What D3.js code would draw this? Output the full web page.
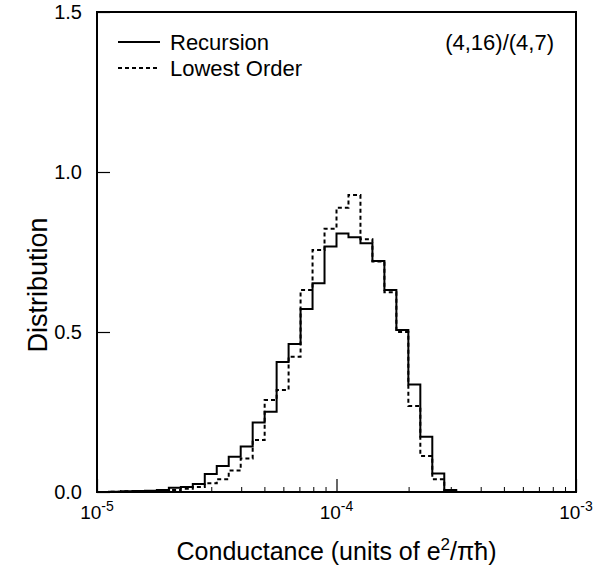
<!DOCTYPE html>
<html>
<head>
<meta charset="utf-8">
<script src="https://cdn.jsdelivr.net/npm/d3@7"></script>
<style>
  body { margin: 0; background: #fff; }
  text { font-family: "Liberation Sans", Arial, sans-serif; fill: #000; }
</style>
</head>
<body>
<script>
// histogram bins: 20 per decade, starting at 10^-5
let logStart = -5;
let binsPerDecade = 20;

// bin heights (bin k covers 10^(-5+k/20) .. 10^(-5+(k+1)/20))
let recursion = [0, 0.001, 0.002, 0.003, 0.004, 0.006, 0.013, 0.016, 0.025, 0.056,
    0.081, 0.11, 0.142, 0.217, 0.251, 0.406, 0.4625, 0.572, 0.652, 0.767,
    0.808, 0.796, 0.777, 0.722, 0.631, 0.506, 0.336, 0.173, 0.058, 0.006, 0];
let lowestOrder = [0, 0.001, 0.002, 0.002, 0.003, 0.004, 0.006, 0.01, 0.016, 0.027,
    0.04, 0.067, 0.105, 0.1625, 0.2875, 0.319, 0.423, 0.631, 0.756, 0.823,
    0.888, 0.928, 0.79, 0.72, 0.624, 0.5, 0.269, 0.1125, 0.04, 0.006, 0];

let yTicks = [0, 0.5, 1.0, 1.5];
let xMajor = [1e-5, 1e-4, 1e-3];
let xMinor = [2e-5, 3e-5, 4e-5, 5e-5, 6e-5, 7e-5, 8e-5, 9e-5,
    2e-4, 3e-4, 4e-4, 5e-4, 6e-4, 7e-4, 8e-4, 9e-4];

let margin = {top: 12, right: 37, bottom: 78, left: 97},
    width = 613 - margin.left - margin.right,
    height = 570 - margin.top - margin.bottom;

let svg = d3.select('body').append('svg')
    .attr('width', 613)
    .attr('height', 570);

let g = svg.append('g')
    .attr('transform', 'translate(' + margin.left + ',' + margin.top + ')');

let x = d3.scaleLog().domain([1e-5, 1e-3]).range([0, width]);
let y = d3.scaleLinear().domain([0, 1.5]).range([height, 0]);

// bin edge -> conductance
let edge = k => Math.pow(10, logStart + k / binsPerDecade);

function stepPoints(vals) {
    let pts = vals.map((v, k) => [edge(k), v]);
    pts.push([edge(vals.length), vals[vals.length - 1]]);
    return pts;
}

let line = d3.line()
    .x(d => x(d[0]))
    .y(d => y(d[1]))
    .curve(d3.curveStepAfter);

// curves
g.append('path')
    .datum(stepPoints(lowestOrder))
    .attr('d', line)
    .attr('fill', 'none')
    .attr('stroke', '#000')
    .attr('stroke-width', 2)
    .attr('stroke-dasharray', '4,3');

g.append('path')
    .datum(stepPoints(recursion))
    .attr('d', line)
    .attr('fill', 'none')
    .attr('stroke', '#000')
    .attr('stroke-width', 2);

// x axis: inward ticks
let xAxis = g.append('g')
    .attr('transform', 'translate(0,' + height + ')')
    .call(d3.axisBottom(x).tickValues(xMajor).tickSize(-13).tickSizeOuter(0).tickFormat(''));
xAxis.select('.domain').remove();
xAxis.selectAll('line').attr('stroke-width', 1.2);

let xMinorAxis = g.append('g')
    .attr('transform', 'translate(0,' + height + ')')
    .call(d3.axisBottom(x).tickValues(xMinor).tickSize(-5).tickSizeOuter(0).tickFormat(''));
xMinorAxis.select('.domain').remove();

// x tick labels with superscripts
let xLab = g.append('g').selectAll('text')
    .data(xMajor)
    .join('text')
    .attr('x', d => x(d))
    .attr('y', height + 27)
    .attr('text-anchor', 'middle')
    .style('font-size', '19px');
xLab.append('tspan').text('10');
xLab.append('tspan')
    .attr('dy', -8)
    .style('font-size', '14px')
    .text(d => '-' + Math.round(-Math.log10(d)));

// y axis: inward ticks
let yAxis = g.append('g')
    .call(d3.axisLeft(y).tickValues(yTicks).tickSize(-13).tickSizeOuter(0)
        .tickFormat(d3.format('.1f')).tickPadding(15));
yAxis.select('.domain').remove();
yAxis.selectAll('text')
    .style('font-size', '20px')
    .style('font-family', '"Liberation Sans", Arial, sans-serif');
yAxis.selectAll('line').attr('stroke-width', 1.2);

// frame
g.append('rect')
    .attr('width', width)
    .attr('height', height)
    .attr('fill', 'none')
    .attr('stroke', '#000')
    .attr('stroke-width', 2);

// axis titles
let xTitle = svg.append('text')
    .attr('x', margin.left + width / 2)
    .attr('y', 560)
    .attr('text-anchor', 'middle')
    .style('font-size', '25px');
xTitle.append('tspan').text('Conductance (units of e');
xTitle.append('tspan').attr('dy', -10).style('font-size', '17px').text('2');
xTitle.append('tspan').attr('dy', 10).text('/πħ)');

svg.append('text')
    .attr('transform', 'translate(47,285) rotate(-90)')
    .attr('text-anchor', 'middle')
    .style('font-size', '27px')
    .text('Distribution');

// legend
let legend = [
    {name: 'Recursion', dash: null, y: 42},
    {name: 'Lowest Order', dash: '4,3', y: 68}
];
let lg = svg.append('g');
legend.forEach(l => {
    lg.append('line')
        .attr('x1', 118).attr('x2', 160)
        .attr('y1', l.y).attr('y2', l.y)
        .attr('stroke', '#000')
        .attr('stroke-width', 2)
        .attr('stroke-dasharray', l.dash);
    lg.append('text')
        .attr('x', 170)
        .attr('y', l.y + 8)
        .style('font-size', '22px')
        .text(l.name);
});

svg.append('text')
    .attr('x', 554)
    .attr('y', 50)
    .attr('text-anchor', 'end')
    .style('font-size', '22px')
    .text('(4,16)/(4,7)');
</script>
</body>
</html>
